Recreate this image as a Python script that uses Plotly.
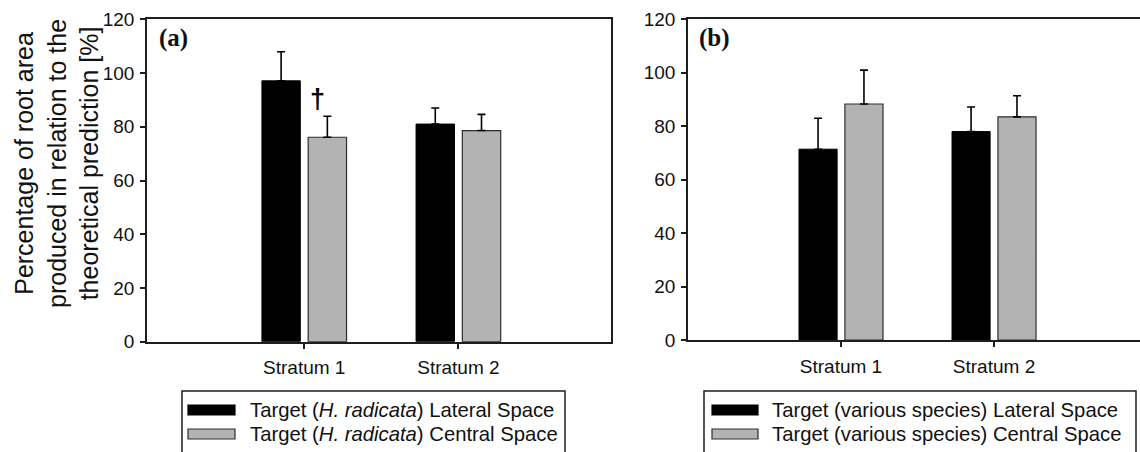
import plotly.graph_objects as go

W, H = 1140, 452

categories = ["Stratum 1", "Stratum 2"]

# Panel (a)
a_lateral = [97.1, 81.0]
a_lateral_err = [10.8, 6.0]
a_central = [76.1, 78.6]
a_central_err = [7.8, 6.0]
a_names = ["Target (<i>H. radicata</i>) Lateral Space",
           "Target (<i>H. radicata</i>) Central Space"]

# Panel (b)
b_lateral = [71.4, 78.0]
b_lateral_err = [11.6, 9.2]
b_central = [88.3, 83.5]
b_central_err = [12.7, 7.9]
b_names = ["Target (various species) Lateral Space",
           "Target (various species) Central Space"]

y_ticks = [0, 20, 40, 60, 80, 100, 120]
y_title = "Percentage of root area<br>produced in relation to the<br>theoretical prediction [%]"
panel_labels = ["(a)", "(b)"]
marker_text = "†"

BLACK = "#000000"
GRAY = "#b3b3b3"
LINE = "#1e1e1e"
FONT = "Arial, Liberation Sans, sans-serif"


def px(x):
    return x / W


def py(y):
    return 1 - y / H


def err(arr):
    return dict(type="data", array=arr, arrayminus=[0] * len(arr), symmetric=False,
                color=BLACK, thickness=1.6, width=4)


fig = go.Figure()
fig.add_bar(x=categories, y=a_lateral, error_y=err(a_lateral_err), name=a_names[0],
            marker=dict(color=BLACK, line=dict(color=BLACK, width=1)), xaxis="x", yaxis="y")
fig.add_bar(x=categories, y=a_central, error_y=err(a_central_err), name=a_names[1],
            marker=dict(color=GRAY, line=dict(color="#2e2e2e", width=1.2)), xaxis="x", yaxis="y")
fig.add_bar(x=categories, y=b_lateral, error_y=err(b_lateral_err), name=b_names[0],
            marker=dict(color=BLACK, line=dict(color=BLACK, width=1)), xaxis="x2", yaxis="y2")
fig.add_bar(x=categories, y=b_central, error_y=err(b_central_err), name=b_names[1],
            marker=dict(color=GRAY, line=dict(color="#2e2e2e", width=1.2)), xaxis="x2", yaxis="y2")

axis_common = dict(showline=True, linecolor=LINE, linewidth=1.6, showgrid=False, zeroline=False,
                   ticks="outside", ticklen=5, tickwidth=1.5, tickcolor=LINE, automargin=False,
                   tickfont=dict(family=FONT, size=19, color="#111111"))

xaxis_common = dict(axis_common, ticklabelstandoff=3, type="category")
yaxis_common = dict(axis_common, range=[0, 120], tickvals=y_ticks, ticklabelstandoff=2)

fig.update_layout(
    width=W, height=H,
    margin=dict(l=0, r=0, t=0, b=0, pad=0),
    paper_bgcolor="white", plot_bgcolor="white",
    showlegend=False,
    barmode="group", bargap=0.40, bargroupgap=0.17,
    xaxis=dict(xaxis_common, domain=[px(147), px(611)], range=[-1.02, 1.99],
               anchor="y", mirror=True),
    yaxis=dict(yaxis_common, domain=[py(341.7), py(19.3)], anchor="x", mirror=True),
    xaxis2=dict(xaxis_common, domain=[px(688), 1.0], range=[-1.0, 1.954],
                anchor="y2", mirror=True),
    yaxis2=dict(yaxis_common, domain=[py(340), py(19.3)], anchor="x2", mirror=False),
)

annotations = []
# y-axis title
annotations.append(dict(text=y_title, textangle=-90, xref="paper", yref="paper",
                        x=px(56), y=py(164), xanchor="center", yanchor="middle",
                        showarrow=False, align="center",
                        font=dict(family=FONT, size=25, color="#111111")))
# panel labels
for lab, xpx in zip(panel_labels, [157, 697]):
    annotations.append(dict(text="<b>" + lab + "</b>", xref="paper", yref="paper",
                            x=px(xpx), y=py(38), xanchor="left", yanchor="middle",
                            showarrow=False,
                            font=dict(family="Liberation Serif, Times New Roman, serif",
                                      size=25, color="#111111")))
# dagger
annotations.append(dict(text="<b>" + marker_text + "</b>", xref="x", yref="y",
                        x=0.085, y=90.5, xanchor="center", yanchor="middle",
                        showarrow=False, font=dict(family=FONT, size=27, color=BLACK)))

shapes = []
# custom legends
legends = [
    dict(box=(182, 391, 565), sym_x=(188, 235), text_x=248, names=a_names),
    dict(box=(704, 391, 1136), sym_x=(712, 758), text_x=770, names=b_names),
]
for lg in legends:
    x0, y0, x1 = lg["box"]
    shapes.append(dict(type="rect", xref="paper", yref="paper",
                       x0=px(x0), x1=px(x1), y0=py(y0), y1=py(470),
                       line=dict(color=LINE, width=1.5), fillcolor="rgba(0,0,0,0)"))
    for i, (nm, col, lc) in enumerate(zip(lg["names"], [BLACK, GRAY], [BLACK, "#2e2e2e"])):
        yc = 410 + 24 * i
        shapes.append(dict(type="rect", xref="paper", yref="paper",
                           x0=px(lg["sym_x"][0]), x1=px(lg["sym_x"][1]),
                           y0=py(yc - 5), y1=py(yc + 5),
                           line=dict(color=lc, width=1.2), fillcolor=col))
        annotations.append(dict(text=nm, xref="paper", yref="paper",
                                x=px(lg["text_x"]), y=py(yc), xanchor="left", yanchor="middle",
                                showarrow=False,
                                font=dict(family=FONT, size=20.3, color="#111111")))

fig.update_layout(annotations=annotations, shapes=shapes)
fig.write_html("out.html")
